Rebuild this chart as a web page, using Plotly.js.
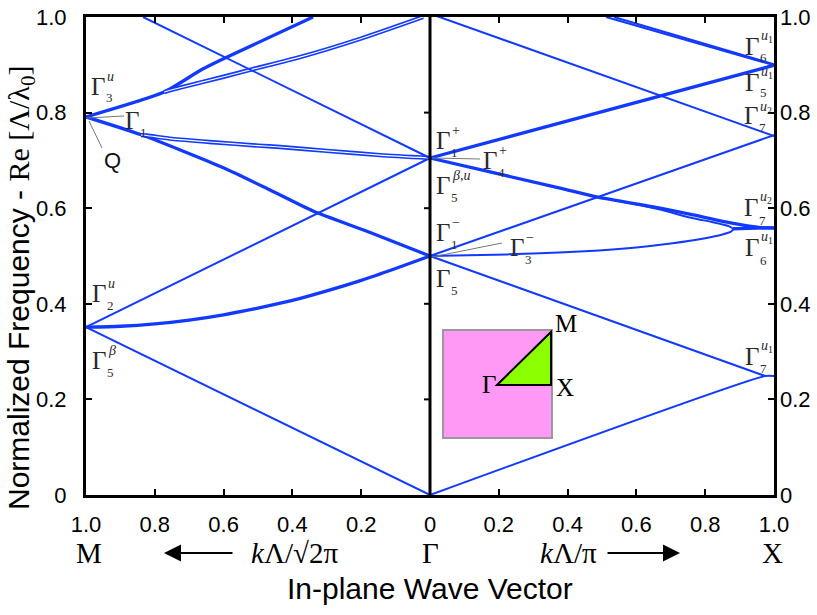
<!DOCTYPE html>
<html><head><meta charset="utf-8">
<script src="https://cdn.plot.ly/plotly-3.0.1.min.js"></script>
<style>body{margin:0;background:#fff}</style>
</head><body>
<div id="chart" style="width:817px;height:615px"></div>
<script>
// ---------- DATA ----------
// Left half: M -> Gamma, wave vector k = kΛ/(√2π) (1 at M, 0 at Γ)
const mgK_line = [1, 0];
const mgF_acoustic = [0.351, 0];
const mgF_rise = [0.351, 0.705];
const mgK_curve = [1, 0.9, 0.8, 0.7, 0.6, 0.5, 0.4, 0.3, 0.2, 0.1, 0];
const mgF_curve = [0.351, 0.353, 0.358, 0.366, 0.377, 0.391, 0.407, 0.427, 0.449, 0.474, 0.5];
const mgK_down = [1, 0.837, 0.599, 0.465, 0.34, 0.174, 0];
const mgF_down = [0.791, 0.753, 0.684, 0.638, 0.594, 0.549, 0.5];
const mgK_g1 = [0.84, 0.823, 0.75, 0.631, 0.5, 0.436, 0.3, 0.145, 0];
const mgF_g1 = [0.753, 0.752, 0.745, 0.738, 0.731, 0.728, 0.72, 0.711, 0.705];
const mgK_up = [1, 0.773, 0.666, 0.602, 0.34];
const mgF_up = [0.791, 0.843, 0.889, 0.912, 1.0];
const mgK_upd = [0.773, 0.727, 0.6, 0.515, 0.378, 0.2, 0.02];
const mgF_upd = [0.843, 0.852, 0.875, 0.891, 0.916, 0.955, 1.0];
const mgK_top = [0.834, 0];
const mgF_top = [1.0, 0.705];

// Right half: Gamma -> X, wave vector k = kΛ/π (0 at Γ, 1 at X)
const gxK_ac = [0, 0.974, 1];
const gxF_ac = [0, 0.249, 0.249];
const gxK_d1 = [0, 0.974];
const gxF_d1 = [0.5, 0.249];
const gxK_line = [0, 1];
const gxF_r1 = [0.5, 0.753];
const gxF_d2 = [1.007, 0.751];
const gxF_r2 = [0.705, 0.899];
const gxK_t1 = [0.512, 1];
const gxF_t1 = [1.0, 0.899];
const gxK_t2 = [0.535, 1];
const gxF_t2 = [1.0, 0.901];
const gxK_d3 = [0, 0.378, 0.488, 0.669, 0.765, 0.863, 0.968, 1];
const gxF_d3 = [0.705, 0.642, 0.623, 0.600, 0.586, 0.571, 0.559, 0.559];
const gxK_loop = [0, 0.15, 0.3, 0.45, 0.6, 0.7, 0.8, 0.85, 0.875, 0.881, 0.87, 0.82, 0.765, 0.669, 0.573, 0.488];
const gxF_loop = [0.5, 0.502, 0.505, 0.51, 0.518, 0.526, 0.537, 0.545, 0.551, 0.556, 0.562, 0.571, 0.579, 0.597, 0.612, 0.623];
const gxK_tail = [0.881, 0.968, 1];
const gxF_tail = [0.557, 0.559, 0.559];

// Axis ticks
const xTickVals = [-1, -0.8, -0.6, -0.4, -0.2, 0, 0.2, 0.4, 0.6, 0.8, 1];
const xTickText = ['1.0', '0.8', '0.6', '0.4', '0.2', '0', '0.2', '0.4', '0.6', '0.8', '1.0'];
const yTickVals = [0, 0.2, 0.4, 0.6, 0.8, 1.0];
const yTickText = ['0', '0.2', '0.4', '0.6', '0.8', '1.0'];

// ---------- BUILD ----------
const BLUE = 'rgb(18,58,255)';
const traces = [];
function band(k, f, sgn, style) {
  const x = k.map(v => sgn * v);
  const common = {x, y: f, mode: 'lines', hoverinfo: 'skip', showlegend: false};
  if (style === 'double') {
    traces.push({...common, line: {color: BLUE, width: 4.4, shape: 'spline', smoothing: 0.6}});
    traces.push({...common, line: {color: '#ffffff', width: 1.1, shape: 'spline', smoothing: 0.6}});
  } else {
    traces.push({...common, line: {color: BLUE, width: style === 'thick' ? 3.3 : 2, shape: 'spline', smoothing: 0.6}});
  }
}
// M - Gamma (left, negative x)
band(mgK_line, mgF_acoustic, -1, 'thin');
band(mgK_line, mgF_rise, -1, 'thin');
band(mgK_curve, mgF_curve, -1, 'thick');
band(mgK_down, mgF_down, -1, 'thick');
band(mgK_g1, mgF_g1, -1, 'double');
band(mgK_up, mgF_up, -1, 'thick');
band(mgK_upd, mgF_upd, -1, 'double');
band(mgK_top, mgF_top, -1, 'thin');
// Gamma - X (right, positive x)
band(gxK_ac, gxF_ac, 1, 'thin');
band(gxK_d1, gxF_d1, 1, 'thin');
band(gxK_line, gxF_r1, 1, 'thin');
band(gxK_line, gxF_d2, 1, 'thin');
band(gxK_line, gxF_r2, 1, 'thick');
band(gxK_t1, gxF_t1, 1, 'thin');
band(gxK_t2, gxF_t2, 1, 'thin');
band(gxK_d3, gxF_d3, 1, 'thick');
band(gxK_loop, gxF_loop, 1, 'thin');
band(gxK_tail, gxF_tail, 1, 'thick');
// dummy trace for right-hand axis labels
traces.push({x: [null], y: [null], yaxis: 'y2', mode: 'lines', showlegend: false, hoverinfo: 'skip'});

// pixel -> data helpers (plot area: x 86..774, y 17..495)
const PX = px => (px - 430) / 344;
const PY = py => (495 - py) / 478;
// pixel -> paper helpers
const QX = px => (px - 86) / 688;
const QY = py => (495 - py) / 478;

const SERIF = '"Liberation Serif", "Times New Roman", serif';
const SANS = '"Liberation Sans", Arial, sans-serif';
const LBL = '#2a2a2a';

const annotations = [];
function txt(px, py, text, font, extra) {
  annotations.push(Object.assign({x: QX(px), y: QY(py), xref: 'paper', yref: 'paper', text, showarrow: false,
    xanchor: 'center', yanchor: 'middle', borderpad: 0, font}, extra || {}));
}
function gam(cx, cy, sub, sup, subDy, supDy) {
  txt(cx, cy, 'Γ', {family: SERIF, size: 25, color: LBL});
  if (sub) txt(cx + 7, cy + (subDy || 12), sub, {family: SERIF, size: 13, color: LBL}, {xanchor: 'left'});
  if (sup) txt(cx + 8, cy - (supDy || 10), sup, {family: SERIF, size: 14, color: LBL}, {xanchor: 'left'});
}
const U = '<i>u</i>';
const U1 = '<i>u</i><sub>1</sub>';
const U2 = '<i>u</i><sub>2</sub>';
gam(98, 86, '3', U);
gam(132, 120, '1', null);
gam(99, 293, '2', U);
gam(99, 360, '5', '<i>β</i>');
gam(443, 140, '1', '+');
gam(490, 160, '4', '+');
gam(443, 185, '5', '<i>β</i>,<i>u</i>');
gam(443, 232, '1', '−');
gam(517, 247, '3', '−');
gam(752, 46, '6', U1);
gam(752, 83, '5', U1, 10);
gam(751, 115, '7', U2, 12, 8);
gam(751, 208, '7', U2);
gam(752, 248, '6', U1);
gam(443, 278, '5', null);
gam(752, 356, '7', U1);
txt(112, 160, 'Q', {family: SANS, size: 22, color: '#111'});

// inset labels
txt(566, 323, 'M', {family: SERIF, size: 25, color: '#000'});
txt(565, 387, 'X', {family: SERIF, size: 25, color: '#000'});
txt(489, 384, 'Γ', {family: SERIF, size: 25, color: '#000'});

// bottom row labels
const rowPY = 553;
txt(89, rowPY, 'M', {family: SERIF, size: 29, color: '#000'});
txt(430, rowPY, 'Γ', {family: SERIF, size: 29, color: '#000'});
txt(772, rowPY, 'X', {family: SERIF, size: 29, color: '#000'});
txt(294, rowPY, '<i>k</i>Λ/√2π', {family: SERIF, size: 29, color: '#000'});
txt(568, rowPY, '<i>k</i>Λ/π', {family: SERIF, size: 29, color: '#000'});
annotations.push({x: QX(164), y: QY(rowPY), xref: 'paper', yref: 'paper', text: '', showarrow: true, ax: 70, ay: 0,
  arrowhead: 2, arrowsize: 1.7, arrowwidth: 2, arrowcolor: '#000'});
annotations.push({x: QX(680), y: QY(rowPY), xref: 'paper', yref: 'paper', text: '', showarrow: true, ax: -74, ay: 0,
  arrowhead: 2, arrowsize: 1.7, arrowwidth: 2, arrowcolor: '#000'});
txt(430, 588, 'In-plane Wave Vector', {family: SANS, size: 30, color: '#000'});
txt(21, 288, 'Normalized Frequency - <span style="font-family:Liberation Serif">Re [Λ/λ<sub>0</sub>]</span>',
  {family: SANS, size: 30, color: '#000'}, {textangle: -90});

// shapes: leader lines, inset, centre ticks
const shapes = [];
function lead(x0, y0, x1, y1) {
  shapes.push({type: 'line', xref: 'x', yref: 'y', x0: PX(x0), y0: PY(y0), x1: PX(x1), y1: PY(y1), line: {color: '#777', width: 1}});
}
lead(87, 118, 124, 116);
lead(89, 121, 102, 148);
lead(432, 158, 480, 159);
lead(432, 257, 502, 243);
shapes.push({type: 'rect', xref: 'x', yref: 'y', x0: PX(443), y0: PY(330), x1: PX(552), y1: PY(438),
  fillcolor: '#ff99f5', line: {color: '#999999', width: 2}, layer: 'above'});
shapes.push({type: 'path', xref: 'x', yref: 'y',
  path: `M ${PX(497)},${PY(385)} L ${PX(551)},${PY(385)} L ${PX(551)},${PY(332)} Z`,
  fillcolor: '#8cff00', line: {color: '#000', width: 2}, layer: 'above'});
yTickVals.slice(1, -1).forEach(v => shapes.push({type: 'line', xref: 'x', yref: 'y', x0: PX(424), x1: 0, y0: v, y1: v,
  line: {color: '#000', width: 2}}));
shapes.push({type: 'line', xref: 'x', yref: 'paper', x0: 0, x1: 0, y0: 0, y1: 1, line: {color: '#000', width: 3}});

const axisFont = {family: SANS, size: 22, color: '#000'};
const layout = {
  width: 817, height: 615,
  margin: {l: 86, r: 43, t: 17, b: 120, pad: 0},
  paper_bgcolor: '#fff', plot_bgcolor: '#fff',
  showlegend: false,
  xaxis: {range: [-1, 1], tickvals: xTickVals, ticktext: xTickText, showgrid: false, zeroline: false,
    showline: true, mirror: 'ticks', linecolor: '#000', linewidth: 3, ticks: 'inside', ticklen: 6, tickwidth: 2,
    tickcolor: '#000', ticklabelstandoff: 8, tickfont: axisFont, fixedrange: true},
  yaxis: {range: [0, 1], tickvals: yTickVals, ticktext: yTickText, showgrid: false, zeroline: false,
    showline: true, mirror: 'ticks', linecolor: '#000', linewidth: 3, ticks: 'inside', ticklen: 6, tickwidth: 2,
    tickcolor: '#000', ticklabelstandoff: 12, tickfont: axisFont, fixedrange: true},
  yaxis2: {range: [0, 1], overlaying: 'y', side: 'right', tickvals: yTickVals, ticktext: yTickText, showgrid: false,
    zeroline: false, showline: false, ticks: '', ticklabelstandoff: 5, tickfont: axisFont, fixedrange: true},
  annotations, shapes
};
Plotly.newPlot('chart', traces, layout, {displayModeBar: false, staticPlot: true});
</script>
</body></html>
